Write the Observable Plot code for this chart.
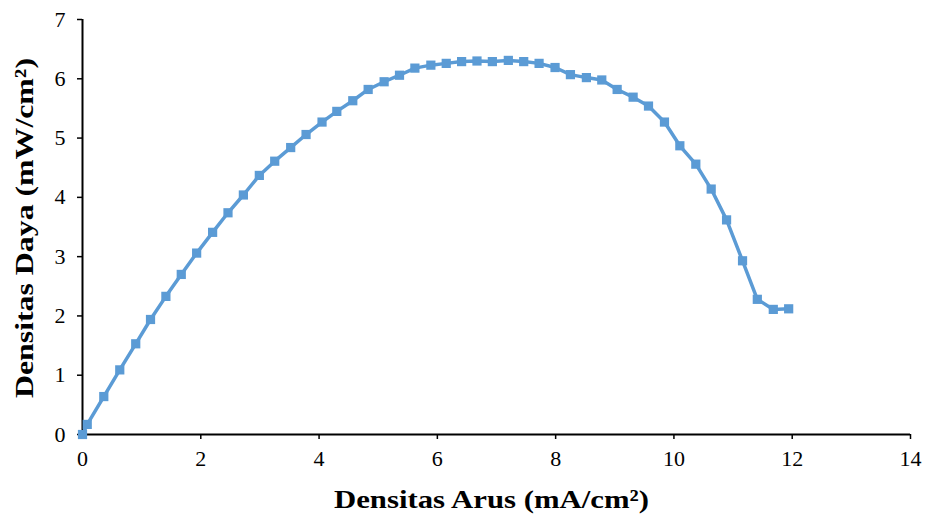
<!DOCTYPE html>
<html>
<head>
<meta charset="utf-8">
<script src="https://cdn.jsdelivr.net/npm/d3@7"></script>
<script src="https://cdn.jsdelivr.net/npm/@observablehq/plot@0.6"></script>
<style>
  html, body { margin: 0; padding: 0; background: #fff; }
  #chart svg { display: block; }
</style>
</head>
<body>
<div id="chart"></div>
<script>
const currentDensity = [0, 0.08, 0.36, 0.63, 0.9, 1.15, 1.41, 1.67, 1.93, 2.2, 2.46, 2.72, 2.99, 3.25, 3.52, 3.78, 4.05, 4.3, 4.57, 4.83, 5.1, 5.36, 5.62, 5.89, 6.15, 6.41, 6.67, 6.93, 7.2, 7.46, 7.72, 7.99, 8.25, 8.52, 8.78, 9.04, 9.31, 9.57, 9.84, 10.1, 10.37, 10.63, 10.89, 11.16, 11.41, 11.68, 11.94];
const powerDensity = [0, 0.17, 0.64, 1.09, 1.53, 1.94, 2.33, 2.7, 3.06, 3.41, 3.74, 4.04, 4.37, 4.61, 4.84, 5.06, 5.27, 5.45, 5.63, 5.82, 5.95, 6.06, 6.18, 6.23, 6.26, 6.29, 6.3, 6.29, 6.31, 6.29, 6.26, 6.19, 6.07, 6.02, 5.98, 5.82, 5.69, 5.54, 5.27, 4.87, 4.56, 4.14, 3.62, 2.93, 2.28, 2.11, 2.12];
const xTicks = [0, 2, 4, 6, 8, 10, 12, 14];
const yTicks = [0, 1, 2, 3, 4, 5, 6, 7];
const xTitle = "Densitas Arus (mA/cm²)";
const yTitle = "Densitas Daya (mW/cm²)";

const data = currentDensity.map((x, i) => ({x, y: powerDensity[i]}));
const color = "#5B9BD5";
const serif = "'Liberation Serif', 'Times New Roman', serif";

const chart = Plot.plot({
  width: 925,
  height: 515,
  marginLeft: 82,
  marginRight: 15,
  marginTop: 19,
  marginBottom: 81,
  style: {fontFamily: serif, background: "#fff", color: "#000"},
  x: {domain: [0, 14]},
  y: {domain: [0, 7]},
  marks: [
    Plot.axisX({ticks: xTicks, tickSize: 5, tickPadding: 11, fontSize: 22, label: null, strokeWidth: 1.5, tickFormat: d => String(d)}),
    Plot.axisY({ticks: yTicks, tickSize: 5, tickPadding: 12, fontSize: 22, label: null, strokeWidth: 1.5, tickFormat: d => String(d)}),
    Plot.ruleY([0], {stroke: "#000", strokeWidth: 2}),
    Plot.ruleX([0], {stroke: "#000", strokeWidth: 2}),
    Plot.line(data, {x: "x", y: "y", stroke: color, strokeWidth: 3.5}),
    Plot.dot(data, {x: "x", y: "y", symbol: "square", r: 5.2, fill: color, stroke: null}),
    Plot.text([xTitle], {frameAnchor: "bottom", dy: 73, dx: -5, fontSize: 26, fontWeight: "bold", fill: "#000", lineAnchor: "bottom", textAnchor: "middle", className: "xtitle"}),
    Plot.text([yTitle], {frameAnchor: "left", rotate: -90, dx: -50, dy: 1, fontSize: 26, fontWeight: "bold", fill: "#000", lineAnchor: "bottom", textAnchor: "middle", className: "ytitle"})
  ]
});
d3.select(chart).selectAll(".xtitle text").attr("textLength", 315).attr("lengthAdjust", "spacingAndGlyphs");
d3.select(chart).selectAll(".ytitle text").attr("textLength", 340).attr("lengthAdjust", "spacingAndGlyphs");
document.getElementById("chart").appendChild(chart);
</script>
</body>
</html>
